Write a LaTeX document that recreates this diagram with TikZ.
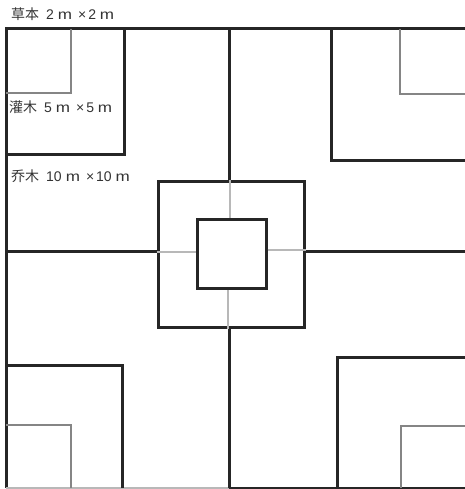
\documentclass[tikz,border=0pt]{standalone}
\usepackage{graphicx}
\usepackage{fontspec}
\setmainfont{Liberation Sans}
\newfontfamily\cjk{Noto Sans CJK SC}
\newcommand{\wm}{\scalebox{1.22}[1]{m}}
\newcommand{\dimlabel}[3]{{\cjk #1}\hspace{7pt}#2\hspace{4pt}\wm\hspace{6pt}×\hspace{2pt}#3\hspace{3.8pt}\wm}
\begin{document}
\begin{tikzpicture}[x=1pt,y=-1pt,
  dark/.style={draw=black!85,line width=3pt},
  mid/.style={draw=black!48,line width=2.7pt},
  faint/.style={draw=black!28,line width=1.1pt},
  lbl/.style={anchor=west,inner sep=0pt,font=\fontsize{14}{16}\selectfont,text=black!80}]
\useasboundingbox (0,0) rectangle (464,489);
% outer frame
\coordinate (tl) at (6,29);
\coordinate (tr) at (466,29);
\coordinate (bl) at (6,488);
\coordinate (bm) at (229,488);
\coordinate (br) at (466,488);
\draw[dark] (bl) -- (tl) -- (tr);
\draw[faint] (bl) -- (bm);
\draw[dark] (bm) -- (br);
% central square
\node[dark,minimum size=146pt,inner sep=0pt] (big) at (231,254) {};
\node[dark,minimum size=69pt,inner sep=0pt] (small) at (231.5,254) {};
% centre cross lines
\coordinate (vt) at (229,29);
\coordinate (vb) at (229,488);
\coordinate (hl) at (6,251);
\coordinate (hr) at (466,251);
\draw[dark] (vt) -- (big.north -| vt);
\draw[dark] (big.south -| vb) -- (vb);
\draw[dark] (hl) -- (big.west |- hl);
\draw[dark] (big.east |- hr) -- (hr);
\draw[faint] (big.north -| 230,0) -- (small.north -| 230,0);
\draw[faint] (small.south -| 228,0) -- (big.south -| 228,0);
\draw[faint] (big.west |- 0,252) -- (small.west |- 0,252);
\draw[faint] (small.east |- 0,250) -- (big.east |- 0,250);
% top-left corner squares
\coordinate (a1) at (124,29);
\coordinate (a2) at (124,155);
\coordinate (a3) at (6,155);
\draw[dark] (a1) -- (a2) -- (a3);
\coordinate (b1) at (71,29);
\coordinate (b2) at (71,93);
\coordinate (b3) at (6,93);
\draw[mid] (b1) -- (b2) -- (b3);
% top-right
\coordinate (c1) at (466,160);
\coordinate (c2) at (331,160);
\coordinate (c3) at (331,29);
\draw[dark] (c1) -- (c2) -- (c3);
\coordinate (d1) at (466,94);
\coordinate (d2) at (400,94);
\coordinate (d3) at (400,29);
\draw[mid] (d1) -- (d2) -- (d3);
% bottom-left
\coordinate (e1) at (6,365);
\coordinate (e2) at (122,365);
\coordinate (e3) at (122,488);
\draw[dark] (e1) -- (e2) -- (e3);
\coordinate (f1) at (6,425);
\coordinate (f2) at (71,425);
\coordinate (f3) at (71,488);
\draw[mid] (f1) -- (f2) -- (f3);
% bottom-right
\coordinate (g1) at (337,488);
\coordinate (g2) at (337,357);
\coordinate (g3) at (466,357);
\draw[dark] (g1) -- (g2) -- (g3);
\coordinate (h1) at (401,488);
\coordinate (h2) at (401,426);
\coordinate (h3) at (466,426);
\draw[mid] (h1) -- (h2) -- (h3);
% labels
\node[lbl] (l1) at (11,14) {\dimlabel{草本}{2}{2}};
\node[lbl] (l2) at (9,107) {\dimlabel{灌木}{5}{5}};
\node[lbl] (l3) at (11,176) {\dimlabel{乔木}{10}{10}};
\end{tikzpicture}
\end{document}
